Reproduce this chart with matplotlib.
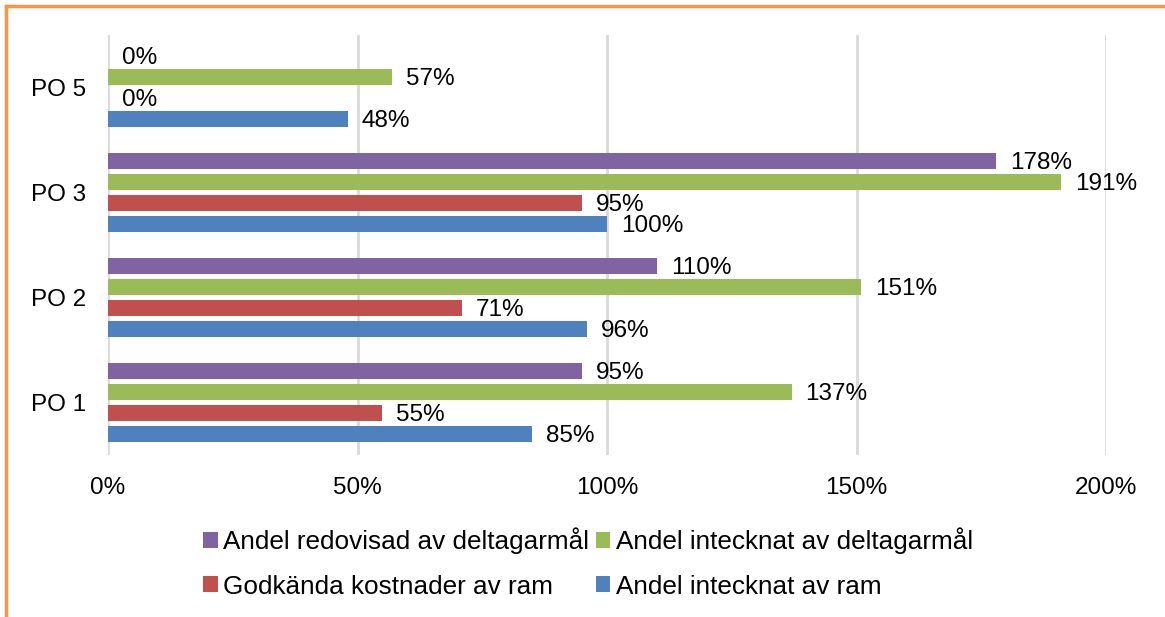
import matplotlib
matplotlib.use("Agg")
import matplotlib.pyplot as plt
from matplotlib.lines import Line2D
import numpy as np

plt.rcParams['font.family'] = ['Liberation Sans', 'DejaVu Sans']

categories = ["PO 1", "PO 2", "PO 3", "PO 5"]
andel_intecknat_ram = [85, 96, 100, 48]
godkanda_kostnader = [55, 71, 95, 0]
andel_intecknat_delt = [137, 151, 191, 57]
andel_redovisad_delt = [95, 110, 178, 0]
xticks = [0, 50, 100, 150, 200]

series = [
    ("Andel intecknat av ram", andel_intecknat_ram, "#4F81BD"),
    ("Godkända kostnader av ram", godkanda_kostnader, "#C0504D"),
    ("Andel intecknat av deltagarmål", andel_intecknat_delt, "#9BBB59"),
    ("Andel redovisad av deltagarmål", andel_redovisad_delt, "#8064A2"),
]

FS = 17.5
LFS = 18.8
fig = plt.figure(figsize=(11.65, 6.17), dpi=100)
ax = fig.add_axes([108/1165, 1-455/617, (1106-108)/1165, (455-35)/617])

y = np.arange(len(categories))
step = 0.2
bh = 0.145
handles = {}
for i, (name, vals, col) in enumerate(series):
    pos = y + (i - 1.5) * step
    bars = ax.barh(pos, vals, height=bh, color=col, label=name, zorder=3)
    handles[name] = bars
    for p, v in zip(pos, vals):
        ax.annotate(f"{v}%", xy=(v, p), xytext=(10, -1.5), textcoords="offset points",
                    ha="left", va="center", fontsize=FS, color="#000000")

ax.set_xlim(0, 200)
ax.set_ylim(-0.5, 3.5)
ax.set_xticks(xticks)
ax.set_xticklabels([f"{t}%" for t in xticks], fontsize=FS)
ax.set_yticks(y)
ax.set_yticklabels(categories, fontsize=FS)
ax.tick_params(axis='both', length=0)
ax.tick_params(axis='y', pad=16)
ax.tick_params(axis='x', pad=16)
ax.grid(axis='x', color='#D9D9D9', linewidth=2, zorder=0)
ax.set_axisbelow(True)
for s in ax.spines.values():
    s.set_visible(False)

order = ["Andel redovisad av deltagarmål", "Godkända kostnader av ram",
         "Andel intecknat av deltagarmål", "Andel intecknat av ram"]
leg = fig.legend([handles[n] for n in order], order, ncol=2, loc='center',
                 bbox_to_anchor=(0.505, 1-563/617), frameon=False, fontsize=LFS,
                 handlelength=0.55, handleheight=0.55, handletextpad=0.22,
                 columnspacing=0.25, labelspacing=0.78)

# orange frame (top and left edges)
fig.add_artist(Line2D([6/1165, 1], [1-6/617, 1-6/617], color="#F79646", linewidth=2.5,
                      transform=fig.transFigure))
fig.add_artist(Line2D([6/1165, 6/1165], [0, 1-6/617], color="#F79646", linewidth=2.5,
                      transform=fig.transFigure))

fig.savefig("out.png", dpi=100)
